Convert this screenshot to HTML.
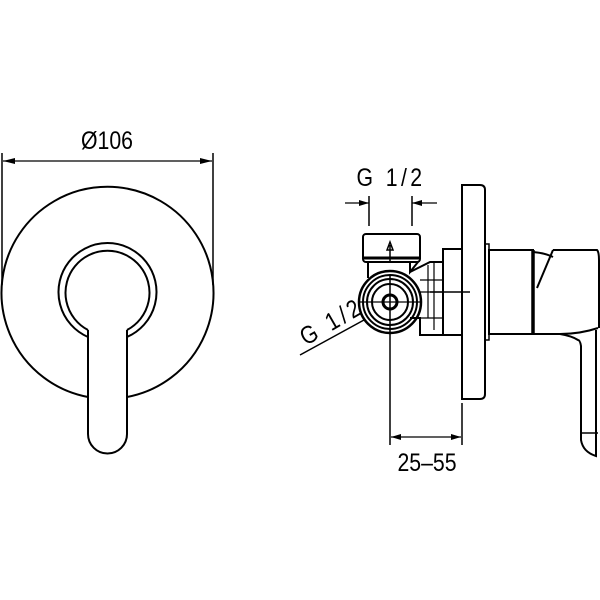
<!DOCTYPE html>
<html><head><style>
html,body{margin:0;padding:0;background:#fff}
svg{display:block}
text{font-family:"Liberation Sans",sans-serif;fill:#000}
</style></head><body>
<svg width="600" height="600" viewBox="0 0 600 600" xmlns="http://www.w3.org/2000/svg" fill="none" stroke="#000" stroke-width="2">
<!-- LEFT VIEW -->
<text x="0" y="0" font-size="25" text-anchor="middle" stroke="none" transform="translate(107 149) scale(0.85 1)">Ø106</text>
<line x1="2" y1="153" x2="2" y2="285" stroke-width="1.5"/>
<line x1="213" y1="153" x2="213" y2="285" stroke-width="1.5"/>
<line x1="3" y1="161" x2="212" y2="161" stroke-width="1.2"/>
<path d="M3 161 l12 -3 v6 z M212 161 l-12 -3 v6 z" fill="#000" stroke="none"/>
<path d="M88 397 A106 106 0 1 1 127 397" />
<path d="M88 337 A49 49 0 1 1 127 337" />
<path d="M88 330 A42 42 0 1 1 127 330" />
<path d="M88 330 V337 M127 330 V337" />
<path d="M88 337 L88 434 A19.5 19.5 0 0 0 127 434 L127 337" />
<!-- RIGHT VIEW -->
<text x="0" y="0" font-size="25" text-anchor="middle" stroke="none" letter-spacing="4" transform="translate(391 186) scale(0.85 1)">G 1/2</text>
<line x1="369" y1="196" x2="369" y2="226" stroke-width="1.5"/>
<line x1="412" y1="196" x2="412" y2="226" stroke-width="1.5"/>
<line x1="345" y1="203" x2="369" y2="203" stroke-width="1.2"/>
<line x1="412" y1="203" x2="437" y2="203" stroke-width="1.2"/>
<path d="M369 203 l-10 -3 v6 z M412 203 l10 -3 v6 z" fill="#000" stroke="none"/>
<!-- nut -->
<rect x="363" y="234" width="57" height="28" rx="3"/>
<line x1="363" y1="258" x2="420" y2="258" stroke-width="3"/>
<path d="M390 262 V245 M387 250 L390 242 L393 250 Z" stroke-width="1.5"/>
<path d="M368 262 V278 M410 262 V272 L418 262"/>
<!-- connector -->
<path d="M410 272 L430 262 H443 V335 H420 V318 H410" />
<path d="M428 265 V318 M434 263 V330 M420 280 H443 M420 292 H443 M420 318 H443" stroke-width="1.2"/>
<!-- fitting -->
<circle cx="390" cy="302" r="31" stroke-width="2.5"/>
<circle cx="390" cy="302" r="27"/>
<circle cx="390" cy="302" r="23"/>
<circle cx="390" cy="302" r="18"/>
<circle cx="390" cy="302" r="7" stroke-width="3"/>
<line x1="360" y1="302" x2="420" y2="302" stroke-width="1.2"/>
<line x1="390" y1="275" x2="390" y2="445" stroke-width="1.5"/>
<line x1="430" y1="292" x2="470" y2="292" stroke-width="1.5"/>
<!-- body block -->
<rect x="443" y="249" width="19" height="86"/>
<path d="M462 185 H480 Q485 185 485 190 V394 Q485 399 480 399 H462 Z"/>
<rect x="485" y="244" width="4" height="96" stroke-width="1.5"/>
<rect x="489" y="250" width="44" height="84"/>
<line x1="533" y1="250" x2="533" y2="334" stroke-width="3.5"/>
<!-- handle -->
<path d="M533 252 Q545 253 553 257"/>
<path d="M553 250 L537 288"/>
<path d="M553 250 H597 Q599 252 599 260 V328"/>
<path d="M533 334 H560 Q580 334 598 328" />
<path d="M560 334 Q572 336 578 340 Q580 340 581 346 V440 Q583 452 596 456 V330"/>
<line x1="582" y1="433" x2="598" y2="433" stroke-width="1.5"/>
<!-- bottom dim -->
<line x1="462" y1="403" x2="462" y2="445" stroke-width="1.5"/>
<line x1="391" y1="437" x2="461" y2="437" stroke-width="1.2"/>
<path d="M391 437 l10 -3 v6 z M461 437 l-10 -3 v6 z" fill="#000" stroke="none"/>
<text x="0" y="0" font-size="25" text-anchor="middle" stroke="none" transform="translate(427 471) scale(0.85 1)">25–55</text>
<!-- G1/2 leader -->
<line x1="300" y1="355" x2="364" y2="320" stroke-width="1.5"/>
<text x="0" y="0" font-size="25" stroke="none" letter-spacing="4" transform="translate(306 346) rotate(-30) scale(0.85 1)">G 1/2</text>
</svg>
</body></html>
